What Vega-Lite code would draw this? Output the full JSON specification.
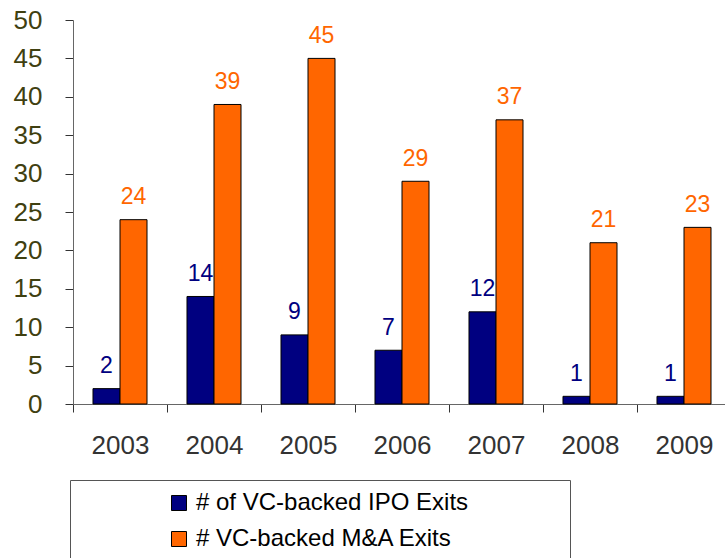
{
  "$schema": "https://vega.github.io/schema/vega-lite/v6.json",
  "autosize": {"type": "none"},
  "width": 658,
  "height": 384,
  "padding": {"left": 73, "top": 20, "right": 0, "bottom": 154},
  "background": "white",
  "config": {"view": {"stroke": null}, "font": "Liberation Sans"},
  "data": {"values": [
    {"year": "2003", "series": "# of VC-backed IPO Exits", "value": 2},
    {"year": "2003", "series": "# VC-backed M&A Exits", "value": 24},
    {"year": "2004", "series": "# of VC-backed IPO Exits", "value": 14},
    {"year": "2004", "series": "# VC-backed M&A Exits", "value": 39},
    {"year": "2005", "series": "# of VC-backed IPO Exits", "value": 9},
    {"year": "2005", "series": "# VC-backed M&A Exits", "value": 45},
    {"year": "2006", "series": "# of VC-backed IPO Exits", "value": 7},
    {"year": "2006", "series": "# VC-backed M&A Exits", "value": 29},
    {"year": "2007", "series": "# of VC-backed IPO Exits", "value": 12},
    {"year": "2007", "series": "# VC-backed M&A Exits", "value": 37},
    {"year": "2008", "series": "# of VC-backed IPO Exits", "value": 1},
    {"year": "2008", "series": "# VC-backed M&A Exits", "value": 21},
    {"year": "2009", "series": "# of VC-backed IPO Exits", "value": 1},
    {"year": "2009", "series": "# VC-backed M&A Exits", "value": 23}
  ]},
  "encoding": {
    "x": {
      "field": "year", "type": "nominal",
      "scale": {"paddingInner": 0, "paddingOuter": 0},
      "axis": {"title": null, "labelAngle": 0, "tickBand": "extent", "tickSize": 8, "labelPadding": 20, "labelFontSize": 26, "labelColor": "#333333", "domainColor": "#666666", "tickColor": "#333333", "labelBaseline": "top"}
    },
    "xOffset": {
      "field": "series", "type": "nominal",
      "scale": {"domain": ["# of VC-backed IPO Exits", "# VC-backed M&A Exits"], "paddingInner": 0, "paddingOuter": 0.74}
    },
    "y": {
      "field": "value", "type": "quantitative",
      "scale": {"domain": [0, 50]},
      "axis": {"title": null, "values": [0, 5, 10, 15, 20, 25, 30, 35, 40, 45, 50], "grid": false, "tickSize": 8, "labelPadding": 23, "labelFontSize": 26, "labelColor": "#404010", "domainColor": "#666666", "tickColor": "#333333"}
    }
  },
  "layer": [
    {
      "mark": {"type": "bar", "stroke": "#000000", "strokeWidth": 1},
      "encoding": {
        "color": {
          "field": "series", "type": "nominal",
          "scale": {"domain": ["# of VC-backed IPO Exits", "# VC-backed M&A Exits"], "range": ["#000080", "#FF6600"]},
          "legend": {
            "orient": "none", "legendX": -3, "legendY": 460,
            "title": " ", "titleOrient": "left", "titlePadding": 86, "titleFontSize": 1,
            "padding": 11, "strokeColor": "#555555", "fillColor": "white",
            "labelFontSize": 24, "labelColor": "#000000", "labelOffset": 5, "labelLimit": 1000,
            "symbolType": "square", "symbolSize": 225, "symbolStrokeColor": "#000000", "symbolStrokeWidth": 1,
            "rowPadding": 12,
            "labelExpr": "datum.label + '\u2800\u2800\u2800\u2800\u2800'"
          }
        }
      }
    },
    {
      "mark": {"type": "text", "dy": -15.5, "baseline": "alphabetic", "fontSize": 23},
      "encoding": {
        "text": {"field": "value", "type": "quantitative"},
        "color": {"field": "series", "type": "nominal", "legend": null}
      }
    }
  ]
}
